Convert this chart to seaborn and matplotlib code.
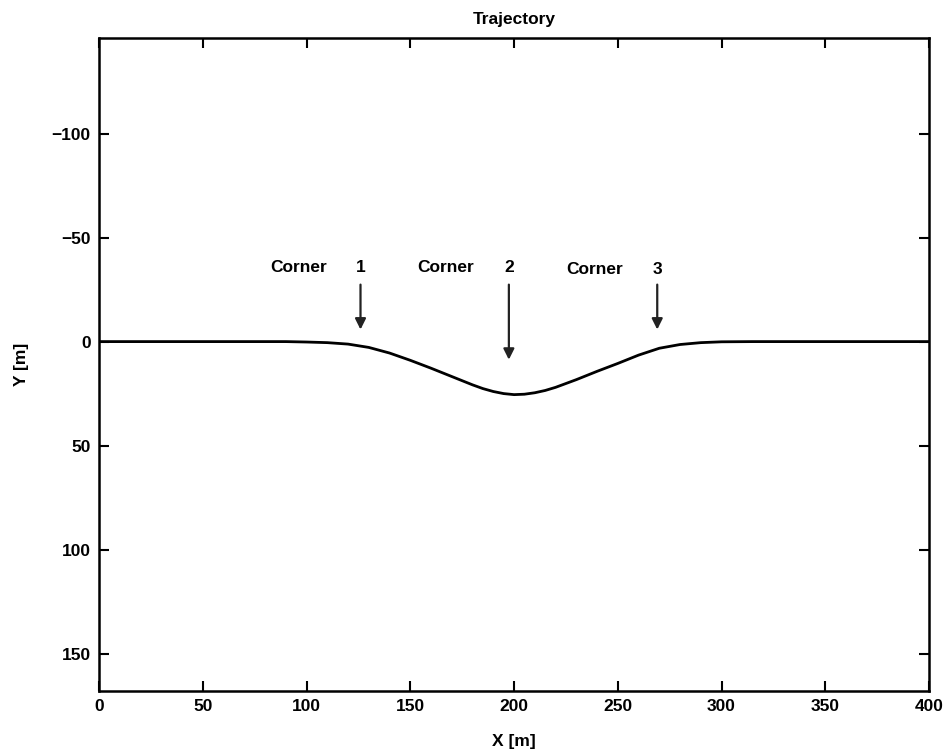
import seaborn as sns
import pandas as pd
import matplotlib.pyplot as plt
from matplotlib import use

use('agg')

# trajectory (x, y in metres, y axis points down)
x_m = [0, 25, 50, 75, 90, 100, 110, 120, 130, 140, 150, 160, 170, 180, 185, 190, 195,
       200, 205, 210, 215, 220, 230, 240, 250, 260, 270, 280, 290, 300, 315, 330, 350, 375, 400]
y_m = [0, 0, 0, 0, 0, 0.2, 0.5, 1.2, 2.8, 5.5, 9.0, 12.8, 16.8, 20.8, 22.6, 24.0, 25.0,
       25.5, 25.3, 24.6, 23.5, 22.0, 18.3, 14.3, 10.5, 6.5, 3.2, 1.4, 0.5, 0.1, 0, 0, 0, 0, 0]

corner_labels = ['1', '2', '3']
corner_x = [126, 197.5, 269]
arrow_top = [-27.4, -27.4, -27.4]
arrow_tip = [-5.8, 8.7, -5.8]
word_x = [96.4, 167, 239]
label_y = [-35.6, -35.6, -34.6]

df = pd.DataFrame({'x': x_m, 'y': y_m})

sns.set_theme(style='ticks')
plt.rcParams['font.family'] = ['Liberation Sans', 'DejaVu Sans']
plt.rcParams['font.weight'] = 'bold'
plt.rcParams['text.color'] = 'black'
plt.rcParams['axes.labelcolor'] = 'black'
plt.rcParams['xtick.color'] = 'black'
plt.rcParams['ytick.color'] = 'black'

fig = plt.figure(figsize=(9.46, 7.55), dpi=100, facecolor='white')
ax = fig.add_axes([0.1047, 0.0848, 0.8774, 0.8649])

sns.lineplot(data=df, x='x', y='y', sort=False, estimator=None, color='black',
             linewidth=2.0, ax=ax)

for lab, cx, top, tip, wx, ly in zip(corner_labels, corner_x, arrow_top, arrow_tip, word_x, label_y):
    ax.annotate('', xy=(cx, tip), xytext=(cx, top),
                arrowprops=dict(arrowstyle='-|>', color='#222222', lw=1.6,
                                mutation_scale=16, shrinkA=0, shrinkB=0))
    ax.text(wx, ly, 'Corner', ha='center', va='center', fontsize=12.5, fontweight='bold')
    ax.text(cx, ly, lab, ha='center', va='center', fontsize=12.5, fontweight='bold')

ax.set_xlim(0, 400)
ax.set_ylim(168, -146)
ax.set_xticks(range(0, 401, 50))
ax.set_yticks([-100, -50, 0, 50, 100, 150])
ax.set_yticklabels(['\u2212100', '\u221250', '0', '50', '100', '150'])
ax.tick_params(direction='in', length=7, width=1.5, top=True, right=True,
               labelsize=12.5, pad=6)
for s in ax.spines.values():
    s.set_linewidth(1.8)
    s.set_color('black')

ax.set_title('Trajectory', fontsize=12.5, fontweight='bold', pad=10)
ax.set_xlabel('X [m]', fontsize=12.5, fontweight='bold', labelpad=14)
ax.set_ylabel('Y [m]', fontsize=12.5, fontweight='bold', labelpad=16)

plt.savefig('out.png', dpi=100, facecolor='white')
